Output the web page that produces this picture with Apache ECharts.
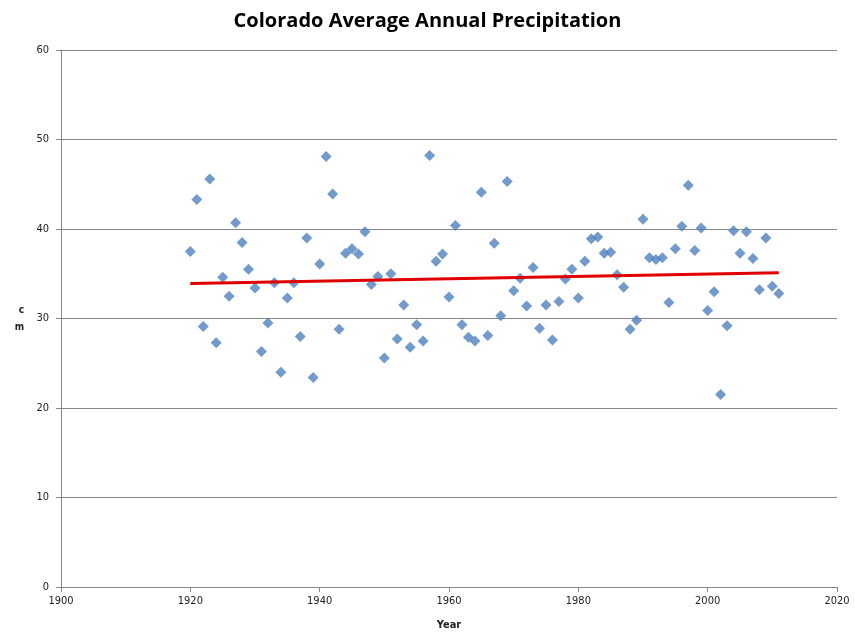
<!DOCTYPE html>
<html>
<head>
<meta charset="utf-8">
<script src="https://cdn.jsdelivr.net/npm/echarts@6/dist/echarts.min.js"></script>
<style>html,body{margin:0;padding:0;background:#fff}#c{width:855px;height:640px}</style>
</head>
<body>
<div id="c"></div>
<script>
const years = [1920,1921,1922,1923,1924,1925,1926,1927,1928,1929,1930,1931,1932,1933,1934,1935,1936,1937,1938,1939,
1940,1941,1942,1943,1944,1945,1946,1947,1948,1949,1950,1951,1952,1953,1954,1955,1956,1957,1958,1959,
1960,1961,1962,1963,1964,1965,1966,1967,1968,1969,1970,1971,1972,1973,1974,1975,1976,1977,1978,1979,
1980,1981,1982,1983,1984,1985,1986,1987,1988,1989,1990,1991,1992,1993,1994,1995,1996,1997,1998,1999,
2000,2001,2002,2003,2004,2005,2006,2007,2008,2009,2010,2011];
const precipCm = [37.5,43.3,29.1,45.6,27.3,34.6,32.5,40.7,38.5,35.5,33.4,26.3,29.5,34.0,24.0,32.3,34.0,28.0,39.0,23.4,
36.1,48.1,43.9,28.8,37.3,37.8,37.2,39.7,33.8,34.7,25.6,35.0,27.7,31.5,26.8,29.3,27.5,48.2,36.4,37.2,
32.4,40.4,29.3,27.9,27.5,44.1,28.1,38.4,30.3,45.3,33.1,34.5,31.4,35.7,28.9,31.5,27.6,31.9,34.4,35.5,
32.3,36.4,38.9,39.1,37.3,37.4,34.9,33.5,28.8,29.8,41.1,36.8,36.6,36.8,31.8,37.8,40.3,44.9,37.6,40.1,
30.9,33.0,21.5,29.2,39.8,37.3,39.7,36.7,33.2,39.0,33.6,32.8];
const trendYears = [1920, 2011];
const trendValues = [33.9, 35.1];
const xTicks = [1900,1920,1940,1960,1980,2000,2020];
const yTicks = [0,10,20,30,40,50,60];

const chart = echarts.init(document.getElementById('c'));
const tickFont = {fontFamily:'DejaVu Sans Condensed, Liberation Sans, sans-serif', fontSize:11, color:'#222'};
chart.setOption({
  animation:false,
  backgroundColor:'#fff',
  title:{text:'Colorado Average Annual Precipitation',left:'center',top:6,
    textStyle:{fontFamily:'Open Sans, Liberation Sans, sans-serif',fontSize:20,fontWeight:'bold',color:'#000'}},
  grid:{left:61,right:18,top:50,bottom:53},
  xAxis:{type:'value',min:xTicks[0],max:xTicks[xTicks.length-1],interval:20,
    name:'Year',nameLocation:'middle',nameGap:33,
    nameTextStyle:{fontFamily:'DejaVu Sans Condensed, sans-serif',fontSize:11,fontWeight:'bold',color:'#222'},
    axisLine:{show:true,lineStyle:{color:'#868686'}},
    axisTick:{show:true,inside:false,length:5,lineStyle:{color:'#868686'}},
    splitLine:{show:false},
    axisLabel:Object.assign({margin:9,formatter:v=>String(v)},tickFont)},
  yAxis:{type:'value',min:yTicks[0],max:yTicks[yTicks.length-1],interval:10,
    name:'c\nm',nameLocation:'middle',nameGap:37,nameRotate:0,
    nameTextStyle:{fontFamily:'DejaVu Sans Condensed, sans-serif',fontSize:10,fontWeight:'bold',color:'#222',lineHeight:17,padding:[8,0,0,0]},
    axisLine:{show:true,lineStyle:{color:'#868686'}},
    axisTick:{show:true,inside:false,length:5,lineStyle:{color:'#868686'}},
    splitLine:{show:true,lineStyle:{color:'#868686',width:1}},
    axisLabel:Object.assign({margin:12},tickFont)},
  series:[
    {type:'scatter',symbol:'diamond',symbolSize:11,
     itemStyle:{color:'#4F81BD'},
     data:years.map((y,i)=>[y,precipCm[i]]),z:3},
    {type:'line',symbol:'none',lineStyle:{color:'#E00000',width:3},
     data:trendYears.map((y,i)=>[y,trendValues[i]]),z:4}
  ]
});
</script>
</body>
</html>
